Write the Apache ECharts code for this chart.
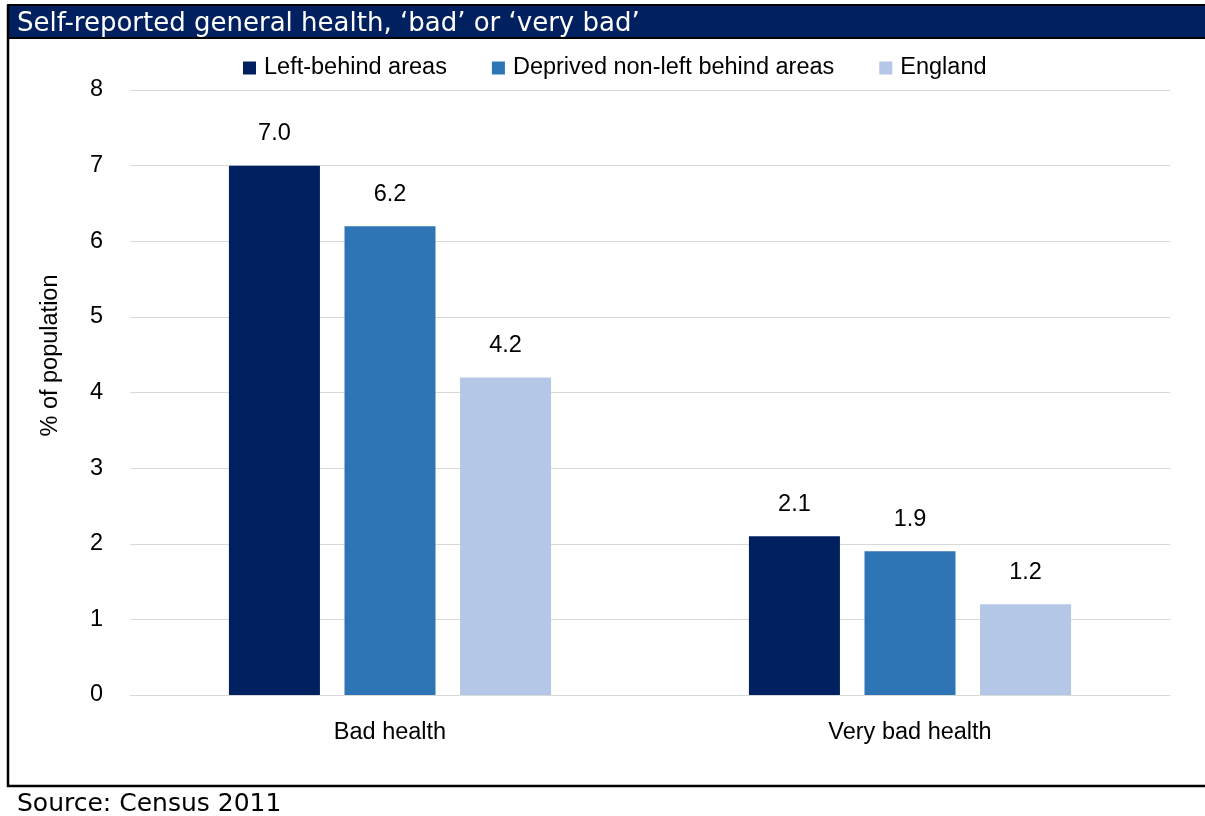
<!DOCTYPE html>
<html>
<head>
<meta charset="utf-8">
<script src="https://cdn.jsdelivr.net/npm/echarts@6/dist/echarts.min.js"></script>
<style>
  html, body { margin: 0; padding: 0; background: #fff; }
  #chart { width: 1205px; height: 816px; }
</style>
</head>
<body>
<div id="chart"></div>
<script>
// Census 2011: share of population reporting 'bad' or 'very bad' general health
const categories = ['Bad health', 'Very bad health'];
const seriesNames = ['Left-behind areas', 'Deprived non-left behind areas', 'England'];
const leftBehind = [7.0, 2.1];
const deprivedNonLeftBehind = [6.2, 1.9];
const england = [4.2, 1.2];
const yTicks = [0, 1, 2, 3, 4, 5, 6, 7, 8];

const colors = ['#002060', '#2E75B6', '#B4C7E7'];
const seriesData = [leftBehind, deprivedNonLeftBehind, england];

const chart = echarts.init(document.getElementById('chart'), null, { renderer: 'canvas' });

const labelFont = 'Liberation Sans, Arial, sans-serif';
const headFont = 'DejaVu Sans, sans-serif';
const textSize = 23.5;

chart.setOption({
  animation: false,
  backgroundColor: '#ffffff',
  title: [
    {
      text: 'Self-reported general health, \u2018bad\u2019 or \u2018very bad\u2019',
      left: 12, top: 6,
      textStyle: { color: '#ffffff', fontFamily: headFont, fontWeight: 'normal', fontSize: 26 }
    },
    {
      text: 'Source: Census 2011',
      left: 12, top: 787,
      textStyle: { color: '#000000', fontFamily: headFont, fontWeight: 'normal', fontSize: 25 }
    }
  ],
  graphic: [
    // title banner
    { type: 'rect', z: -1, shape: { x: 8, y: 5, width: 1210, height: 33 },
      style: { fill: '#002060', stroke: '#000000', lineWidth: 2 } },
    // outer frame
    { type: 'polyline', z: -1, shape: { points: [[1210, 786], [8, 786], [8, 5]] },
      style: { fill: null, stroke: '#000000', lineWidth: 2.5 } }
  ],
  legend: {
    top: 51, left: 238,
    itemWidth: 13, itemHeight: 13, itemGap: 45,
    icon: 'rect',
    textStyle: { fontFamily: labelFont, fontSize: textSize, color: '#000000', padding: [0, 0, 0, 3] },
    data: seriesNames
  },
  grid: { left: 130, right: 35, top: 90, bottom: 121 },
  xAxis: {
    type: 'category',
    data: categories,
    axisLine: { lineStyle: { color: '#d9d9d9', width: 1 } },
    axisTick: { show: false },
    axisLabel: { margin: 26, fontFamily: labelFont, fontSize: textSize, color: '#000000' }
  },
  yAxis: {
    type: 'value',
    min: yTicks[0], max: yTicks[yTicks.length - 1], interval: 1,
    name: '% of population',
    nameLocation: 'middle', nameGap: 67, nameRotate: 90,
    nameTextStyle: { fontFamily: labelFont, fontSize: textSize, color: '#000000', padding: [0, 0, 0, 74] },
    axisLine: { show: false },
    axisTick: { show: false },
    splitLine: { lineStyle: { color: '#d9d9d9', width: 1 } },
    axisLabel: { margin: 27, fontFamily: labelFont, fontSize: textSize, color: '#000000' }
  },
  series: seriesNames.map((name, i) => ({
    name,
    type: 'bar',
    data: seriesData[i],
    barWidth: 91,
    barGap: '27%',
    itemStyle: { color: colors[i] },
    label: {
      show: true, position: 'top', distance: 20,
      fontFamily: labelFont, fontSize: textSize, color: '#000000',
      formatter: p => p.value.toFixed(1)
    }
  }))
});
</script>
</body>
</html>
